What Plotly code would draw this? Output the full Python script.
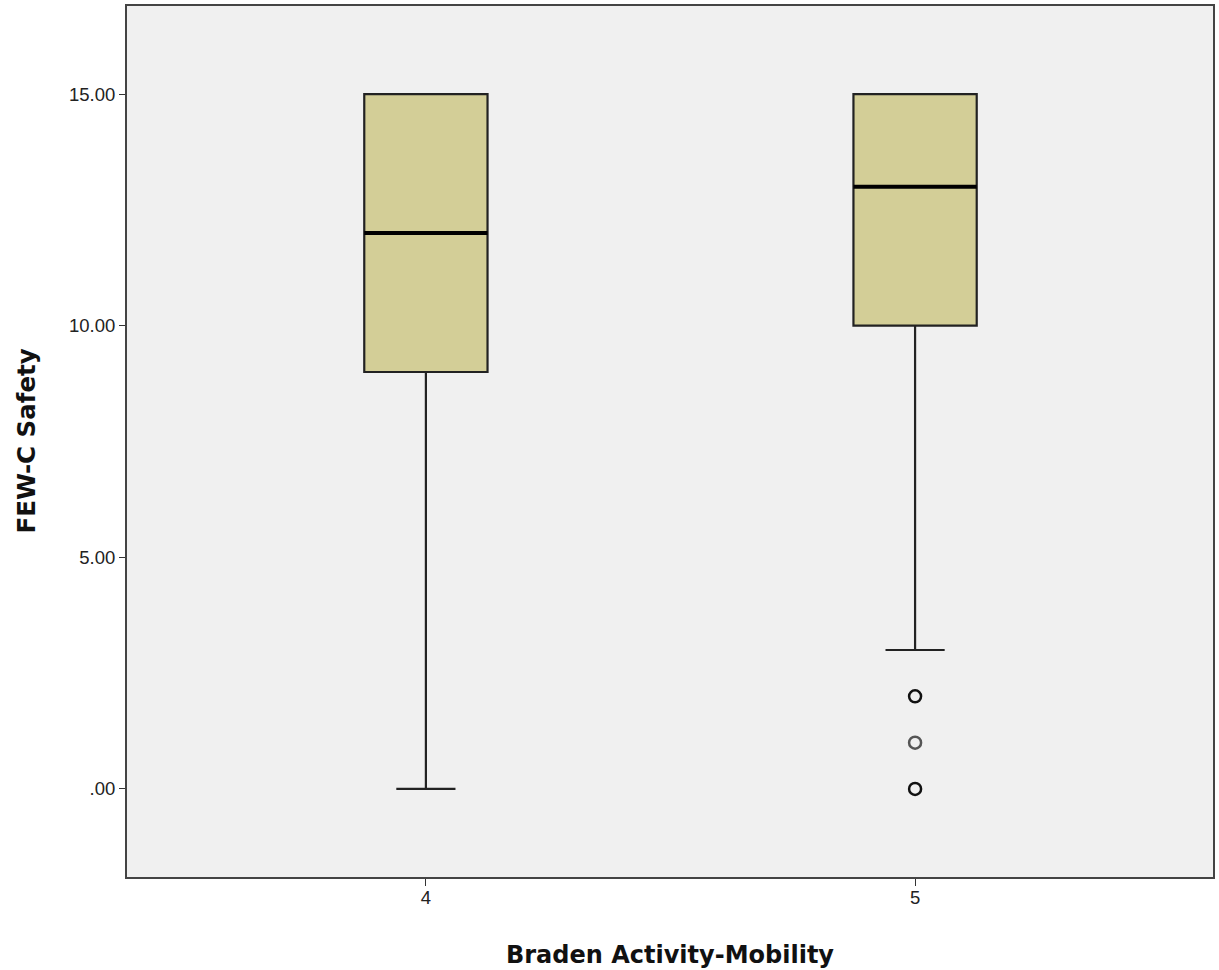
import plotly.graph_objects as go

# Summary statistics per Braden Activity-Mobility level
categories = ["4", "5"]
positions = [0, 1]
q1 = [9, 10]
median = [12, 13]
q3 = [15, 15]
lower_whisker = [0, 3]
upper_whisker = [15, 15]

# Outlying cases (level 5 only)
outlier_cat = [1, 1, 1]
outlier_val = [2, 1, 0]
outlier_edge = ["#111111", "#555555", "#111111"]

y_tickvals = [0, 5, 10, 15]
y_ticktext = [".00", "5.00", "10.00", "15.00"]

BOX_W = 0.252
FILL = "#D3CE97"
EDGE = "#222222"
TICK_FONT = "Liberation Sans, Arial, sans-serif"
TITLE_FONT = "DejaVu Sans, Verdana, sans-serif"

fig = go.Figure()

for i, cat in enumerate(categories):
    fig.add_trace(go.Box(
        x=[positions[i]],
        q1=[q1[i]], median=[median[i]], q3=[q3[i]],
        lowerfence=[lower_whisker[i]], upperfence=[upper_whisker[i]],
        width=BOX_W, whiskerwidth=0.48,
        fillcolor=FILL,
        line=dict(color=EDGE, width=2.2),
        boxpoints=False, hoverinfo="skip", showlegend=False,
    ))
    # heavier median line
    fig.add_trace(go.Scatter(
        x=[positions[i] - BOX_W / 2, positions[i] + BOX_W / 2],
        y=[median[i], median[i]],
        mode="lines", line=dict(color="black", width=4),
        hoverinfo="skip", showlegend=False,
    ))

fig.add_trace(go.Scatter(
    x=outlier_cat, y=outlier_val, mode="markers",
    marker=dict(symbol="circle-open", size=12, color=outlier_edge,
                line=dict(width=2.5, color=outlier_edge)),
    hoverinfo="skip", showlegend=False,
))

fig.update_layout(
    width=1219, height=970,
    margin=dict(l=127, r=4, t=5, b=93),
    paper_bgcolor="white", plot_bgcolor="#F0F0F0",
    font=dict(family=TICK_FONT, color="#222222"),
    xaxis=dict(
        range=[-0.611, 1.609],
        tickvals=positions, ticktext=categories,
        ticks="outside", ticklen=7, tickwidth=1.2, tickcolor="#333333",
        tickfont=dict(family=TICK_FONT, size=18.5, color="#222222"),
        ticklabelstandoff=-4,
        showgrid=False, zeroline=False,
        showline=True, linecolor="#444444", linewidth=2, mirror=True,
        title=dict(text="<b>Braden Activity-Mobility</b>",
                   font=dict(family=TITLE_FONT, size=24, color="#111111"),
                   standoff=39),
    ),
    yaxis=dict(
        range=[-1.9, 16.9],
        tickvals=y_tickvals, ticktext=y_ticktext,
        ticks="outside", ticklen=6, tickwidth=1.2, tickcolor="#333333",
        tickfont=dict(family=TICK_FONT, size=18.5, color="#222222"),
        showgrid=False, zeroline=False,
        showline=True, linecolor="#444444", linewidth=2, mirror=True,
    ),
    annotations=[dict(
        text="<b>FEW-C Safety</b>", textangle=-90,
        xref="paper", yref="paper", x=-0.093, y=0.5,
        xanchor="center", yanchor="middle", showarrow=False,
        font=dict(family=TITLE_FONT, size=24.5, color="#111111"),
    )],
)

fig.write_html("out.html")
